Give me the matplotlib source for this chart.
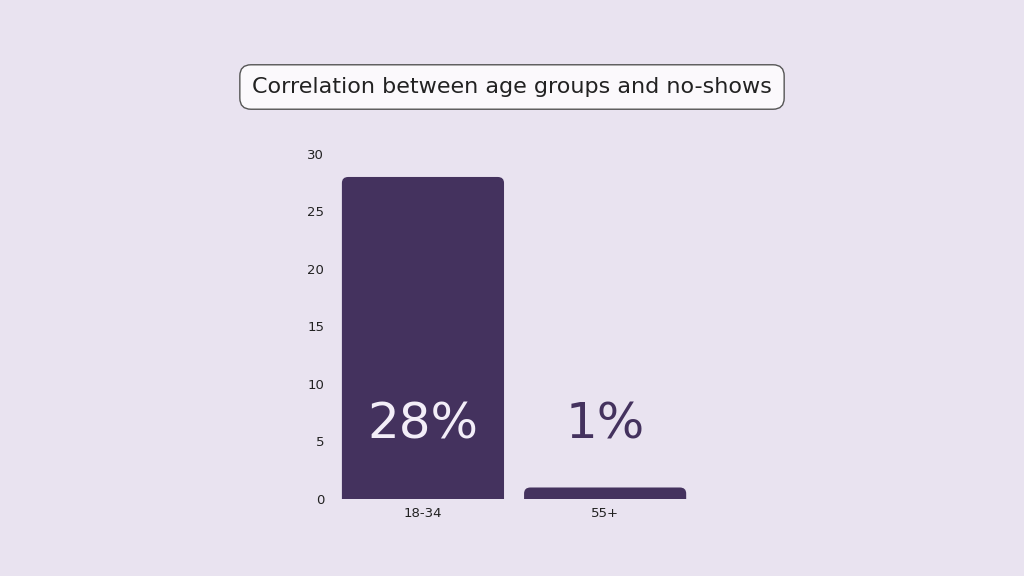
import matplotlib.pyplot as plt
from matplotlib.patches import FancyBboxPatch

categories = ['18-34', '55+']
values = [28, 1]
labels = ['28%', '1%']

bg = '#E9E3F0'
bar_color = '#44325E'

fig = plt.figure(figsize=(10.24, 5.76), dpi=100, facecolor=bg)
ax = fig.add_axes([0.333, 0.1337, 0.338, 0.599], facecolor=bg)
ax.set_xlim(-0.45, 1.45)
ax.set_ylim(0, 30)

w = 0.89
for i, v in enumerate(values):
    p = FancyBboxPatch((i - w / 2, -2), w, v + 2,
                       boxstyle='round,pad=0,rounding_size=0.035',
                       mutation_aspect=15, fc=bar_color, ec='none')
    ax.add_patch(p)

ax.text(0, 6.5, labels[0], ha='center', va='center', fontsize=36, color='#F3EEF8')
ax.text(1, 6.5, labels[1], ha='center', va='center', fontsize=36, color=bar_color)

ax.set_xticks(range(len(categories)), categories)
ax.set_yticks(range(0, 31, 5))
ax.tick_params(length=0, labelsize=9.5, colors='#222222', pad=12)
ax.tick_params(axis='x', pad=6)
for s in ax.spines.values():
    s.set_visible(False)

fig.text(0.5, 1 - 87 / 576, 'Correlation between age groups and no-shows',
         ha='center', va='center', fontsize=16, color='#222222',
         bbox=dict(boxstyle='round,pad=0.55,rounding_size=0.5', fc='#FBF9FC', ec='#555555', lw=1))

fig.savefig('out.png', dpi=100, facecolor=bg)
